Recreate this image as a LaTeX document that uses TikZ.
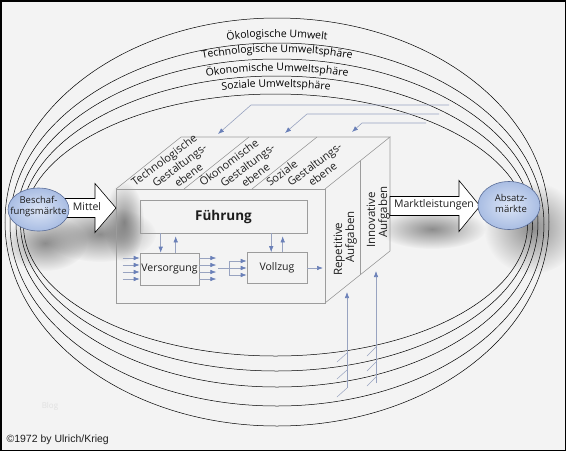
\documentclass[tikz,border=0pt]{standalone}
\usepackage{fontspec}
\setmainfont{Open Sans}
\newfontfamily\arialfont{Liberation Sans}
\usetikzlibrary{arrows.meta,decorations.text,fadings,shapes.geometric}
\definecolor{bgc}{HTML}{F3F3F3}
\definecolor{boxc}{HTML}{9C9C9C}
\definecolor{arrl}{HTML}{98A3C0}
\definecolor{arrh}{HTML}{6A80B8}
\definecolor{mkin}{HTML}{DCE5F6}
\definecolor{mkout}{HTML}{A9BDE3}
\definecolor{mkline}{HTML}{5A6D98}
\definecolor{txtc}{HTML}{1E1E1E}
\tikzfading[name=softfade, inner color=transparent!20, outer color=transparent!100]
\tikzset{
  ring/.style={draw=black, line width=0.5pt},
  cubeline/.style={draw=boxc, line width=0.6pt},
  boxnode/.style={draw=boxc, line width=0.6pt, inner sep=0pt},
  arr/.style={draw=arrl, line width=0.6pt, -{Latex[length=6pt,width=4.5pt,color=arrh]}},
  strokeline/.style={draw=arrl, line width=0.5pt},
  bigarrow/.style={draw=black, line width=0.6pt, fill=white},
  market/.style={ellipse, draw=mkline, line width=0.6pt, inner color=mkin, outer color=mkout, inner sep=0pt},
  marktxt/.style={align=center, font=\fontsize{9.5}{11}\selectfont, text=txtc},
  shadowblob/.style={fill=black!55, path fading=softfade},
  lbl/.style={font=\fontsize{10.5}{13}\selectfont, text=txtc},
  toplbl/.style={font=\fontsize{11}{13}\selectfont, text=txtc, rotate=37, anchor=base west, inner sep=0pt},
  sidelbl/.style={font=\fontsize{11.5}{13}\selectfont, text=txtc, rotate=90, anchor=base west, inner sep=0pt},
  spherelbl/.style={decorate, decoration={text along path, text align=center}},
}
\begin{document}
\begin{tikzpicture}[x=1pt,y=-1pt]
\useasboundingbox (0,0) rectangle (566,451);
\fill[bgc] (0,0) rectangle (566,451);

% shadows
\fill[shadowblob] (45,243) ellipse [x radius=42, y radius=28];
\fill[shadowblob] (100,234) ellipse [x radius=56, y radius=28];
\fill[shadowblob] (124,222) ellipse [x radius=20, y radius=40];
\fill[shadowblob] (432,229) ellipse [x radius=54, y radius=20];
\fill[shadowblob] (532,228) ellipse [x radius=48, y radius=46];

% environment rings
\draw[ring] (277,222) ellipse [x radius=272, y radius=204];
\draw[ring] (277,224.5) ellipse [x radius=267, y radius=181.5];
\draw[ring] (277,223) ellipse [x radius=261, y radius=164];
\draw[ring] (276.5,223.5) ellipse [x radius=256, y radius=147.5];
\draw[ring] (275.5,225) ellipse [x radius=252, y radius=131];

% ring labels
\path[spherelbl, decoration={text={|\fontsize{10.5}{12}\selectfont|Ökologische Umwelt}}]
  (277,223) ++(230:270 and 186) arc[start angle=230, end angle=310, x radius=270, y radius=186];
\path[spherelbl, decoration={text={|\fontsize{10.5}{12}\selectfont|Technologische Umweltsphäre}}]
  (277,222) ++(225:264 and 170) arc[start angle=225, end angle=315, x radius=264, y radius=170];
\path[spherelbl, decoration={text={|\fontsize{10.5}{12}\selectfont|Ökonomische Umweltsphäre}}]
  (277,223) ++(225:258 and 152) arc[start angle=225, end angle=315, x radius=258, y radius=152];
\path[spherelbl, decoration={text={|\fontsize{10.5}{12}\selectfont|Soziale Umweltsphäre}}]
  (276,223) ++(225:254 and 136) arc[start angle=225, end angle=315, x radius=254, y radius=136];

% cube
\coordinate (fl) at (116,189);
\coordinate (fr) at (325,189);
\coordinate (br) at (325,303);
\coordinate (tl) at (181,137);
\coordinate (tr) at (390,137);
\coordinate (rb) at (390,251);
\draw[cubeline] (fl) rectangle (br);
\draw[cubeline] (fl) -- (tl) -- (tr) -- (fr);
\draw[cubeline] (tr) -- (rb) -- (br);
\draw[cubeline] (184,189) -- (249,137);
\draw[cubeline] (252,189) -- (317,137);
\draw[cubeline] (360,161) -- (360,275);

% labels of the top face (Gestaltungsebenen)
\node[toplbl] (tge1) at (135,187) {Technologische};
\node[toplbl] (tge2) at (156,188) {Gestaltungs-};
\node[toplbl] (tge3) at (178,188) {ebene};
\node[toplbl] (oge1) at (203,187) {Ökonomische};
\node[toplbl] (oge2) at (224,188) {Gestaltungs-};
\node[toplbl] (oge3) at (245,188) {ebene};
\node[toplbl] (sge1) at (270,187) {Soziale};
\node[toplbl] (sge2) at (291,187) {Gestaltungs-};
\node[toplbl] (sge3) at (312,187) {ebene};

% labels of the right face
\node[sidelbl] (rep1) at (342,276) {Repetitive};
\node[sidelbl] (rep2) at (354,263) {Aufgaben};
\node[sidelbl] (inn1) at (375,248) {Innovative};
\node[sidelbl] (inn2) at (387,238) {Aufgaben};

% inner boxes
\node[boxnode, minimum width=167pt, minimum height=33pt, font=\fontsize{13.5}{15}\selectfont\bfseries, text=txtc] (fuehrung) at (223.5,216.5) {Führung};
\node[boxnode, minimum width=59pt, minimum height=32pt, lbl] (versorgung) at (169.5,269) {Versorgung};
\node[boxnode, minimum width=60pt, minimum height=31pt, lbl] (vollzug) at (277,268) {Vollzug};

% arrows between boxes
\draw[arr] ([xshift=21pt]fuehrung.south west) -- ([xshift=21pt]versorgung.north west);
\draw[arr, shorten >=3pt] ([xshift=36pt]versorgung.north west) -- ([xshift=36pt]fuehrung.south west);
\draw[arr] ([xshift=131.5pt]fuehrung.south west) -- ([xshift=24.5pt]vollzug.north west);
\draw[arr, shorten >=3pt] ([xshift=36pt]vollzug.north west) -- ([xshift=143pt]fuehrung.south west);

\foreach \d in {11,4,-3,-10} {
  \draw[arr] ([shift={(-17pt,\d pt)}]versorgung.west) -- ([yshift=\d pt]versorgung.west);
  \draw[arr] ([yshift=\d pt]versorgung.east) -- ([shift={(17pt,\d pt)}]versorgung.east);
}
\coordinate (jn) at (229,268);
\draw[strokeline] ([xshift=19pt,yshift=1pt]versorgung.east) -- (jn);
\draw[strokeline] ([yshift=7pt]jn) -- ([yshift=-7pt]jn);
\foreach \d in {7,0,-7} {
  \draw[arr] ([yshift=\d pt]jn) -- ([yshift=\d pt]vollzug.west);
}
\coordinate (vout) at (323,268);
\draw[arr] (vollzug.east) -- (vout);

% arrows from the spheres onto the top face
\coordinate (t1a) at (449,105); \coordinate (t1b) at (251,105); \coordinate (t1c) at (218,134);
\coordinate (t2a) at (439,114); \coordinate (t2b) at (307,114); \coordinate (t2c) at (285,133);
\coordinate (t3a) at (426,123); \coordinate (t3b) at (362,123); \coordinate (t3c) at (352,132);
\draw[arr] (t1a) -- (t1b) -- (t1c);
\draw[arr] (t2a) -- (t2b) -- (t2c);
\draw[arr] (t3a) -- (t3b) -- (t3c);

% arrows from below onto the right face
\coordinate (u1a) at (347,388); \coordinate (u1b) at (347,292);
\coordinate (u2a) at (376,383); \coordinate (u2b) at (376,271);
\draw[arr] (u1a) -- (u1b);
\draw[arr] (u2a) -- (u2b);
\foreach \y in {353,370,388} \draw[strokeline] (347,\y) -- ++(-10,9);
\foreach \y in {347,362,377} \draw[strokeline] (376,\y) -- ++(-9,9);

% big arrows
\draw[bigarrow] (62,198.5) -- (95,198.5) -- (95,183.5) -- (116,208) -- (95,232.5) -- (95,217.5) -- (62,217.5) -- cycle;
\node[lbl] (mittel) at (87,207) {Mittel};
\draw[bigarrow] (390,196.5) -- (459,196.5) -- (459,180.5) -- (480,206) -- (459,231.5) -- (459,215.5) -- (390,215.5) -- cycle;
\node[lbl] (mkl) at (434,205) {Marktleistungen};

% markets
\node[market, minimum width=61pt, minimum height=43pt] (besch) at (38.5,209.5) {};
\node[marktxt] (beschtxt) at (38.5,206.5) {Beschaf-\\fungsmärkte};
\node[market, minimum width=62pt, minimum height=48pt] (absatz) at (509,205.5) {};
\node[marktxt] (absatztxt) at (511,203.5) {Absatz-\\märkte};

% watermark and copyright
\node[text=black!12, font=\fontsize{8}{9}\selectfont] (blog) at (50,406) {Blog};
\node[anchor=west, font=\arialfont\fontsize{10.5}{12}\selectfont, text=txtc] (copy) at (3,440) {©1972 by Ulrich/Krieg};

\draw[black, line width=1.5pt] (0.75,0.75) rectangle (565.25,450.25);
\end{tikzpicture}
\end{document}
